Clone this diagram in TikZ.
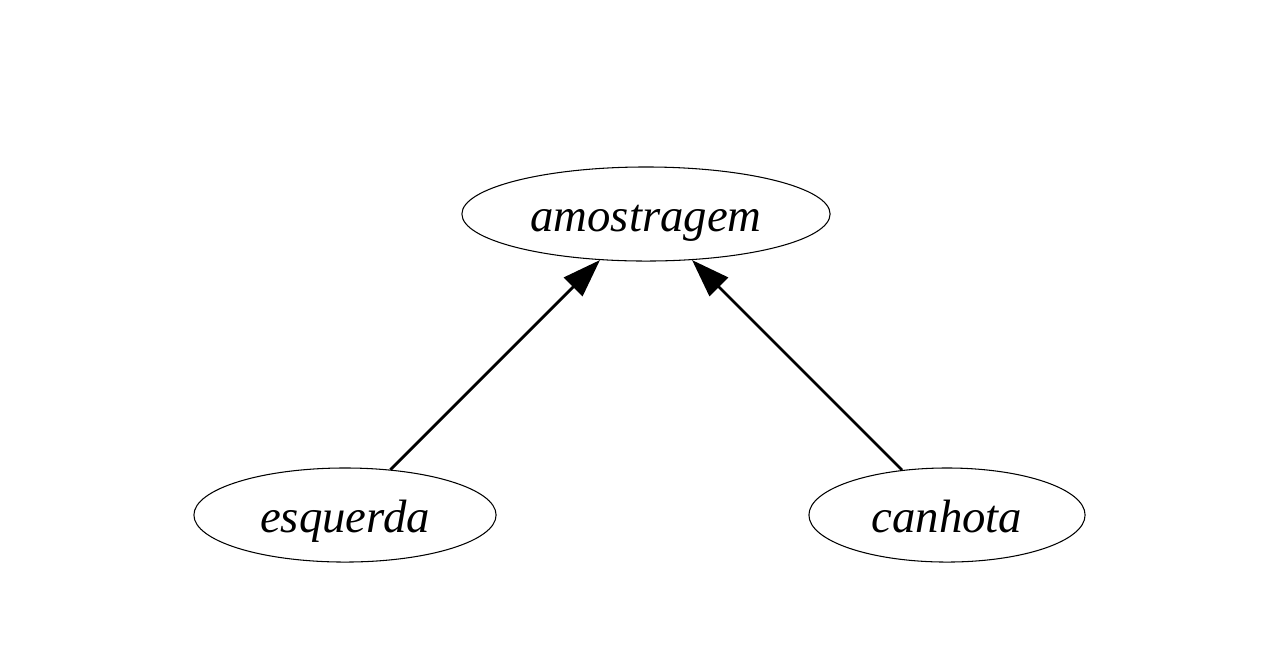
\documentclass[tikz,border=0pt]{standalone}
\usepackage{fontspec}
\setmainfont{Liberation Serif}
\usetikzlibrary{
    arrows.meta,
    shapes.geometric,
    positioning
}

\begin{document}
\begin{tikzpicture}[x=0.01cm, y=-0.01cm,
    termo/.style={draw, ellipse, line width=0.3pt, inner sep=0pt,
        minimum height=0.94cm, text height=12.2pt, text depth=2pt,
        font=\fontsize{13.3}{15}\selectfont\itshape},
    seta/.style={line width=0.8pt, -{Triangle[length=0.38cm, width=0.26cm]}}]
                        \useasboundingbox (0, 0) rectangle (1280, 663);
                        \node[termo, minimum width=3.68cm] (amostragem) at (646, 214) {amostragem};
                        \node[termo, minimum width=3.02cm] (esquerda) at (345, 515) {esquerda};
                        \node[termo, minimum width=2.76cm] (canhota) at (947, 515) {canhota};
                        \draw[seta] (esquerda) -- (amostragem);
                        \draw[seta] (canhota) -- (amostragem);
                    \end{tikzpicture}
\end{document}
